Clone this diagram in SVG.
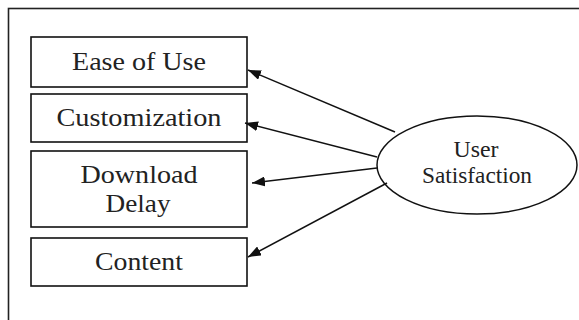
<svg xmlns="http://www.w3.org/2000/svg" width="579" height="320" viewBox="0 0 579 320">
<style>
.frame{fill:none;stroke:#222;stroke-width:1.6}
.box{fill:#fff;stroke:#111;stroke-width:1.6}
.lbl{font-family:"Liberation Serif","Times New Roman",serif;font-size:26px;fill:#222;text-anchor:middle}
.elbl{font-family:"Liberation Serif","Times New Roman",serif;font-size:24px;fill:#222;text-anchor:middle}
.conn{fill:none;stroke:#111;stroke-width:1.5;marker-end:url(#arr)}
</style>
<defs>
<marker id="arr" markerUnits="userSpaceOnUse" markerWidth="14" markerHeight="10" refX="13" refY="5" orient="auto">
<path d="M0,0 L13,5 L0,10 Z" fill="#111"/>
</marker>
</defs>
<rect width="579" height="320" fill="#fff"/>
<rect class="frame" x="8.5" y="8.5" width="600" height="400"/>
<g id="ease-of-use">
<rect class="box" x="31" y="37" width="216" height="50"/>
<text class="lbl" x="139" y="70" textLength="134" lengthAdjust="spacingAndGlyphs">Ease of Use</text>
</g>
<g id="customization">
<rect class="box" x="31" y="94" width="216" height="48"/>
<text class="lbl" x="139" y="126" textLength="165" lengthAdjust="spacingAndGlyphs">Customization</text>
</g>
<g id="download-delay">
<rect class="box" x="31" y="151" width="216" height="76"/>
<text class="lbl" x="139" y="183" textLength="117" lengthAdjust="spacingAndGlyphs">Download</text>
<text class="lbl" x="138" y="212" textLength="65" lengthAdjust="spacingAndGlyphs">Delay</text>
</g>
<g id="content">
<rect class="box" x="31" y="238" width="216" height="48"/>
<text class="lbl" x="139" y="270" textLength="88" lengthAdjust="spacingAndGlyphs">Content</text>
</g>
<g id="user-satisfaction">
<ellipse cx="477" cy="165" rx="100" ry="49" fill="#fff" stroke="#111" stroke-width="1.5"/>
<text class="elbl" x="476" y="157" textLength="45" lengthAdjust="spacingAndGlyphs">User</text>
<text class="elbl" x="477" y="183" textLength="110" lengthAdjust="spacingAndGlyphs">Satisfaction</text>
</g>
<g id="connectors">
<line class="conn" x1="395" y1="132" x2="248" y2="70"/>
<line class="conn" x1="377" y1="157" x2="245" y2="123"/>
<line class="conn" x1="377" y1="168" x2="252" y2="183"/>
<line class="conn" x1="387" y1="183" x2="248" y2="257"/>
</g>
</svg>
